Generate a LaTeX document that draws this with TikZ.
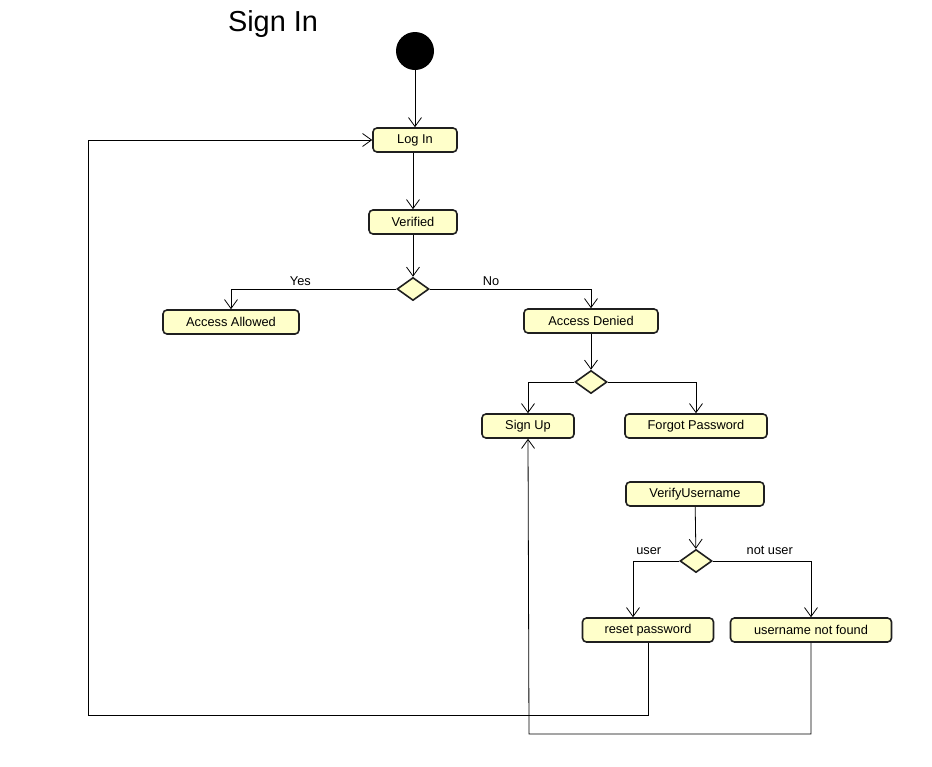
\documentclass[tikz,border=0pt]{standalone}
\usepackage{fontspec}
\setmainfont{Liberation Sans}
\usetikzlibrary{arrows.meta,shapes.geometric}
\definecolor{actfill}{RGB}{255,255,202}

\begin{document}
\begin{tikzpicture}[x=1pt,y=-1pt,
  txt/.style={font=\fontsize{12.8}{14}\selectfont},
  act/.style={txt,draw=black!88,line width=1.6pt,rounded corners=4pt,fill=actfill,
    minimum height=24pt,inner sep=0pt},
  choice/.style={diamond,draw=black!88,line width=1.6pt,fill=actfill,
    minimum width=32pt,minimum height=23pt,inner sep=0pt},
  flow/.style={-{Straight Barb[length=9pt,width=13pt]},line width=0.8pt}]
\useasboundingbox (0,0) rectangle (932,766);
\node[font=\fontsize{28.9}{32}\selectfont] (title) at (273,24) {Sign In};
% nodes
\node[circle,fill=black,minimum size=38pt,inner sep=0pt] (init) at (415,51) {};
\node[act,minimum width=84pt] (login) at (415,140) {Log In};
\node[act,minimum width=88pt] (verified) at (413,222) {Verified};
\node[choice] (d1) at (413,289) {};
\node[act,minimum width=136pt] (allowed) at (231,322) {Access Allowed};
\node[act,minimum width=134pt] (denied) at (591,321) {Access Denied};
\node[choice] (d2) at (591,382) {};
\node[act,minimum width=92pt] (signup) at (528,426) {Sign Up};
\node[act,minimum width=142pt] (forgot) at (696,426) {Forgot Password};
\node[act,minimum width=138pt] (verifyuser) at (695,494) {VerifyUsername};
\node[choice] (d3) at (696,561) {};
\node[act,minimum width=131pt] (reset) at (648,630) {reset password};
\node[act,minimum width=161pt] (notfound) at (811,630) {username not found};
\coordinate (backA) at (88,715);
\coordinate (backB) at (529,734);
% flows
\draw[flow] (init) -- (login);
\draw[flow] (login.south -| verified) -- (verified);
\draw[flow] (verified) -- (d1);
\draw[flow] (d1.west) -| node[txt,above,pos=0.29] (yes) {Yes} (allowed.north);
\draw[flow] (d1.east) -| node[txt,above,pos=0.19] (no) {No} (denied.north);
\draw[flow] (denied) -- (d2);
\draw[flow] (d2.west) -| (signup.north);
\draw[flow] (d2.east) -| (forgot.north);
\draw[flow] (verifyuser) -- (d3);
\draw[flow] (d3.west) -| node[txt,above=3pt,pos=0.33] (user) {user} ([xshift=-15pt]reset.north);
\draw[flow] (d3.east) -| node[txt,above=3pt,pos=0.29] (notuser) {not user} (notfound.north);
\draw[flow] (reset.south) |- (backA) |- (login.west);
\draw[flow] (notfound.south) |- (backB) -- (signup.south);
\end{tikzpicture}
\end{document}
